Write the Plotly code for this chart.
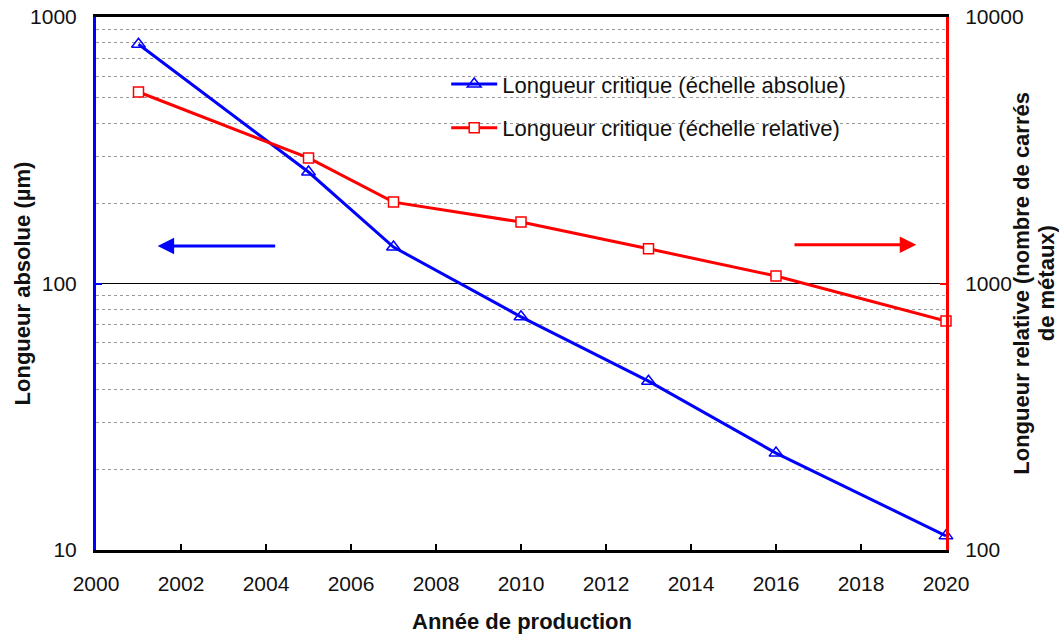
import plotly.graph_objects as go

# Production years and critical lengths
years = [2001, 2005, 2007, 2010, 2013, 2016, 2020]
abs_length_um = [790, 262, 137, 75, 43, 23.1, 11.3]          # absolute scale (µm)
rel_length_sq = [5230, 2960, 2020, 1700, 1350, 1067, 723]    # relative scale (metal squares)

x_ticks = list(range(2000, 2021, 2))
left_ticks = [10, 100, 1000]
right_ticks = [100, 1000, 10000]
left_minor = [m * d for d in (10, 100) for m in range(2, 10)]

x_title = "Année de production"
left_title = "Longueur absolue (µm)"
right_title_lines = ["Longueur relative (nombre de carrés", "de métaux)"]

FONT = "Arial, Liberation Sans, sans-serif"
FS = 21      # tick labels
FS_T = 22    # titles and legend

fig = go.Figure()

fig.add_trace(go.Scatter(
    x=years, y=abs_length_um, name="Longueur critique (échelle absolue)",
    mode="lines+markers", yaxis="y", legend="legend",
    line=dict(color="#0000ff", width=3),
    marker=dict(symbol="triangle-up-open", size=12, color="#0000ff", line=dict(width=1.5)),
    cliponaxis=False,
))
fig.add_trace(go.Scatter(
    x=years, y=rel_length_sq, name="Longueur critique (échelle relative)",
    mode="lines+markers", yaxis="y2", legend="legend2",
    line=dict(color="#ff0000", width=3),
    marker=dict(symbol="square", size=10, color="white", line=dict(color="#ff0000", width=1.5)),
    cliponaxis=False,
))

# Direction arrows pointing to each series' axis
fig.add_annotation(x=2001.45, y=2.141, ax=2004.25, ay=2.141, xref="x", yref="y",
                   axref="x", ayref="y", text="", showarrow=True,
                   arrowhead=2, arrowsize=1.1, arrowwidth=3, arrowcolor="#0000ff")
fig.add_annotation(x=2019.3, y=2.145, ax=2016.4, ay=2.145, xref="x", yref="y",
                   axref="x", ayref="y", text="", showarrow=True,
                   arrowhead=2, arrowsize=1.1, arrowwidth=3, arrowcolor="#ff0000")

# Axis titles
title_font = dict(size=FS_T, family=FONT, color="#111")
fig.add_annotation(text=f"<b>{x_title}</b>", xref="paper", yref="paper",
                   x=0.501, y=-0.135, xanchor="center", yanchor="middle",
                   showarrow=False, font=title_font, borderpad=0)
fig.add_annotation(text=f"<b>{left_title}</b>", xref="paper", yref="paper",
                   x=-0.086, y=0.5, xanchor="center", yanchor="middle", textangle=-90,
                   showarrow=False, font=title_font, borderpad=0)
for xpos, line in zip([1.0885, 1.1185], right_title_lines):
    fig.add_annotation(text=f"<b>{line}</b>", xref="paper", yref="paper",
                       x=xpos, y=0.5, xanchor="center", yanchor="middle", textangle=-90,
                       showarrow=False, font=title_font, borderpad=0)

legend_style = dict(xanchor="left", yanchor="middle", bgcolor="rgba(0,0,0,0)",
                    font=dict(size=FS_T, family=FONT, color="#111"), itemwidth=46)

fig.update_layout(
    width=1059, height=635,
    margin=dict(l=96, r=113, t=17, b=85),
    paper_bgcolor="white", plot_bgcolor="white",
    font=dict(family=FONT, size=FS, color="#111"),
    showlegend=True,
    legend=dict(x=0.412, y=0.874, **legend_style),
    legend2=dict(x=0.412, y=0.792, **legend_style),
    xaxis=dict(
        range=[2000, 2020], tickvals=x_ticks, showgrid=False, zeroline=False,
        showline=True, linecolor="black", linewidth=3, mirror=True,
        ticks="inside", ticklen=6, tickwidth=2, tickcolor="black",
        tickfont=dict(size=FS, family=FONT), ticklabelstandoff=13, automargin=False,
    ),
    yaxis=dict(
        type="log", range=[1, 3], tickvals=left_ticks, ticktext=[str(v) for v in left_ticks],
        showgrid=True, gridcolor="black", gridwidth=1, zeroline=False,
        minor=dict(tickvals=left_minor, showgrid=True, gridcolor="#999",
                   griddash="dot", gridwidth=1, ticks=""),
        showline=True, linecolor="#0000ff", linewidth=3,
        ticks="inside", ticklen=6, tickwidth=2, tickcolor="#0000ff",
        tickfont=dict(size=FS, family=FONT), ticklabelstandoff=12, automargin=False,
    ),
    yaxis2=dict(
        type="log", range=[2, 4], tickvals=right_ticks, ticktext=[str(v) for v in right_ticks],
        overlaying="y", side="right", showgrid=False, zeroline=False,
        showline=True, linecolor="#ff0000", linewidth=3,
        ticks="inside", ticklen=6, tickwidth=2, tickcolor="#ff0000",
        tickfont=dict(size=FS, family=FONT), ticklabelstandoff=12, automargin=False,
    ),
)

fig.write_html("out.html")
